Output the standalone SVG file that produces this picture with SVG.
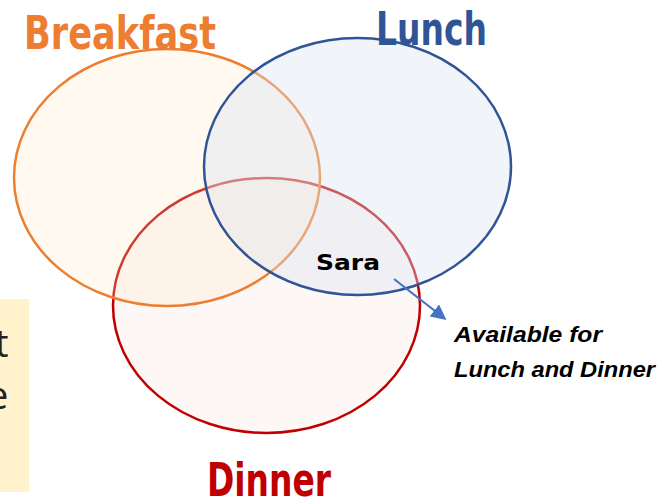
<svg xmlns="http://www.w3.org/2000/svg" width="662" height="501" viewBox="0 0 662 501">
  <defs>
    <marker id="arrowhead" viewBox="0 0 10 10" refX="8" refY="5" markerWidth="7" markerHeight="7" orient="auto" markerUnits="strokeWidth">
      <path d="M0,0 L10,5 L0,10 z" fill="#4472C4"/>
    </marker>
    <style>
      .set { stroke-width: 2.5; }
      .title { font-family: "DejaVu Sans", "Liberation Sans", sans-serif; font-weight: bold; font-size: 46px; }
      .note { font-family: "Liberation Sans", "DejaVu Sans", sans-serif; font-weight: bold; font-style: italic; font-size: 22px; fill: #000; }
      .name { font-family: "DejaVu Sans", "Liberation Sans", sans-serif; font-weight: bold; font-size: 22px; fill: #000; }
      .side { font-family: "Open Sans", "Liberation Sans", sans-serif; font-size: 38px; fill: #222; }
    </style>
  </defs>

  <rect width="662" height="501" fill="#FFFFFF"/>

  <!-- side panel, cut off at the left edge -->
  <g id="side-panel">
    <rect x="-10" y="299" width="39" height="193" fill="#FFF2CC"/>
    <text class="side" x="-5" y="357">t</text>
    <text class="side" x="-13" y="409">e</text>
  </g>

  <!-- three meal sets: dinner at the bottom, lunch on top -->
  <g id="dinner">
    <ellipse class="set" cx="266.5" cy="305.5" rx="153.5" ry="127.5" fill="#FDF7F5" stroke="#C00000"/>
    <text class="title" x="207" y="496" fill="#C00000" textLength="124" lengthAdjust="spacingAndGlyphs">Dinner</text>
  </g>

  <g id="breakfast">
    <ellipse class="set" cx="167" cy="177.5" rx="153" ry="128.5" fill="#FFE7C3" fill-opacity="0.25" stroke="#ED7D31"/>
    <text class="title" x="24" y="49" fill="#ED7D31" textLength="192" lengthAdjust="spacingAndGlyphs">Breakfast</text>
  </g>

  <g id="lunch">
    <ellipse class="set" cx="357.5" cy="166.5" rx="153.5" ry="128.5" fill="#DCE3F0" fill-opacity="0.4" stroke="#2F5597"/>
    <text class="title" x="376" y="45" fill="#2F5597" textLength="111" lengthAdjust="spacingAndGlyphs">Lunch</text>
  </g>

  <g id="sara">
    <text class="name" x="316" y="270" textLength="64" lengthAdjust="spacingAndGlyphs">Sara</text>
  </g>

  <g id="availability-note">
    <text class="note" x="454" y="342" textLength="148" lengthAdjust="spacingAndGlyphs">Available for</text>
    <text class="note" x="454" y="377" textLength="201" lengthAdjust="spacingAndGlyphs">Lunch and Dinner</text>
  </g>

  <g id="connectors">
    <line x1="394" y1="279" x2="444" y2="318" stroke="#4472C4" stroke-width="2.2" marker-end="url(#arrowhead)"/>
  </g>
</svg>
